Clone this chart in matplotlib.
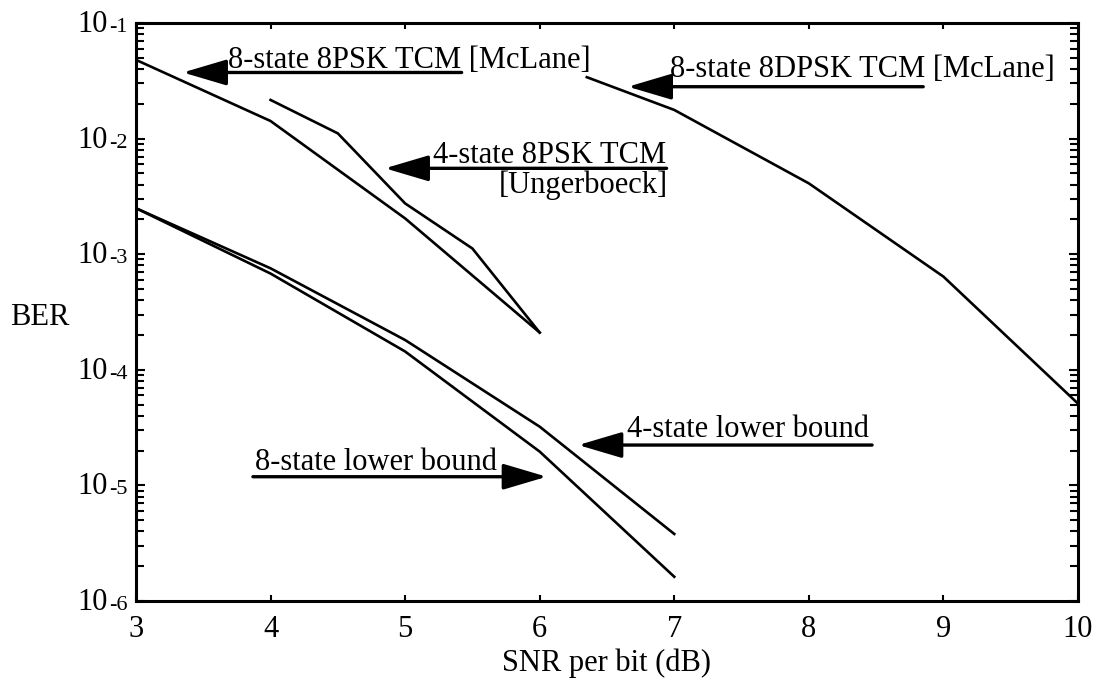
import matplotlib
matplotlib.use("Agg")
import matplotlib.pyplot as plt
import numpy as np
from matplotlib.ticker import LogLocator, NullFormatter, FixedLocator

plt.rcParams["font.family"] = "Liberation Serif"

# BER curves vs SNR per bit (dB)
snr_8psk_8state = [3, 4, 5, 6]
ber_8psk_8state = [4.8e-2, 1.42e-2, 2.04e-3, 2.1e-4]

snr_8psk_4state = [4, 4.5, 5, 5.5, 6]
ber_8psk_4state = [2.16e-2, 1.11e-2, 2.75e-3, 1.12e-3, 2.1e-4]

snr_8dpsk = [6.35, 7, 8, 9, 10]
ber_8dpsk = [3.4e-2, 1.77e-2, 4.1e-3, 6.4e-4, 5.1e-5]

snr_bound = [3, 4, 5, 6, 7]
ber_bound_4state = [2.5e-3, 7.55e-4, 1.81e-4, 3.22e-5, 3.8e-6]
ber_bound_8state = [2.5e-3, 6.8e-4, 1.44e-4, 1.96e-5, 1.62e-6]

x_ticks = [3, 4, 5, 6, 7, 8, 9, 10]
decades = [-1, -2, -3, -4, -5, -6]

fig = plt.figure(figsize=(11.01, 6.87), dpi=100)
ax = fig.add_axes([0.1235, 0.1252, 0.8556, 0.8413])

for x, y in [(snr_8psk_8state, ber_8psk_8state),
             (snr_8psk_4state, ber_8psk_4state),
             (snr_8dpsk, ber_8dpsk),
             (snr_bound, ber_bound_4state),
             (snr_bound, ber_bound_8state)]:
    ax.plot(x, y, color="black", lw=1.9, solid_joinstyle="round")

ax.set_yscale("log")
ax.set_xlim(3, 10)
ax.set_ylim(1e-6, 1e-1)

for side in ax.spines.values():
    side.set_linewidth(2.2)

ax.xaxis.set_major_locator(FixedLocator(x_ticks))
ax.set_xticklabels([str(t) for t in x_ticks])
ax.tick_params(axis="x", which="major", direction="in", length=4.5, width=1.5,
               top=True, labelsize=22, pad=10)
ax.tick_params(axis="x", which="minor", bottom=False, top=False)

ax.yaxis.set_major_locator(FixedLocator([10.0 ** d for d in decades]))
ax.yaxis.set_minor_locator(LogLocator(base=10, subs=np.arange(2, 10)))
ax.yaxis.set_minor_formatter(NullFormatter())
ax.set_yticklabels([])
ax.tick_params(axis="y", which="both", direction="in", right=True, width=1.5)
ax.tick_params(axis="y", which="major", length=6.5)
ax.tick_params(axis="y", which="minor", length=5.8)

# decade labels written as "10" with a smaller exponent on the same baseline
for d in decades:
    ax.annotate(f"-{-d}", xy=(0, 10.0 ** d), xycoords=("axes fraction", "data"),
                xytext=(-8, -9), textcoords="offset pixels",
                ha="right", va="baseline", fontsize=16)
    ax.annotate("10", xy=(0, 10.0 ** d), xycoords=("axes fraction", "data"),
                xytext=(-28, -9), textcoords="offset pixels",
                ha="right", va="baseline", fontsize=22)

ax.set_xlabel("SNR per bit (dB)", fontsize=22, va="center")
ax.xaxis.set_label_coords(0.5, -0.107)
ax.set_ylabel("BER", fontsize=22, rotation=0, ha="center", va="center")
ax.yaxis.set_label_coords(-0.102, 0.49)

arrow = dict(arrowstyle="-|>,head_length=2.7,head_width=0.8", mutation_scale=10,
             lw=2.4, color="black", shrinkA=0, shrinkB=0)

# curve labels with arrows (shaft underlines the first line of text)
ax.text(3.684, 10 ** -1.389, "8-state 8PSK TCM [McLane]", fontsize=22,
        ha="left", va="baseline")
ax.annotate("", xy=(3.349, 10 ** -1.428), xytext=(5.42, 10 ** -1.428),
            arrowprops=arrow)

ax.text(6.968, 10 ** -1.4645, "8-state 8DPSK TCM [McLane]", fontsize=22,
        ha="left", va="baseline")
ax.annotate("", xy=(6.656, 10 ** -1.551), xytext=(8.85, 10 ** -1.551),
            arrowprops=arrow)

ax.text(6.943, 10 ** -2.211, "4-state 8PSK TCM", fontsize=22,
        ha="right", va="baseline")
ax.text(6.953, 10 ** -2.471, "[Ungerboeck]", fontsize=22,
        ha="right", va="baseline")
ax.annotate("", xy=(4.85, 10 ** -2.257), xytext=(6.943, 10 ** -2.257),
            arrowprops=arrow)

ax.text(6.646, 10 ** -4.581, "4-state lower bound", fontsize=22,
        ha="left", va="baseline")
ax.annotate("", xy=(6.287, 10 ** -4.651), xytext=(8.47, 10 ** -4.651),
            arrowprops=arrow)

ax.text(3.884, 10 ** -4.867, "8-state lower bound", fontsize=22,
        ha="left", va="baseline")
ax.annotate("", xy=(6.052, 10 ** -4.925), xytext=(3.869, 10 ** -4.925),
            arrowprops=arrow)

fig.savefig("out.png", dpi=100)
